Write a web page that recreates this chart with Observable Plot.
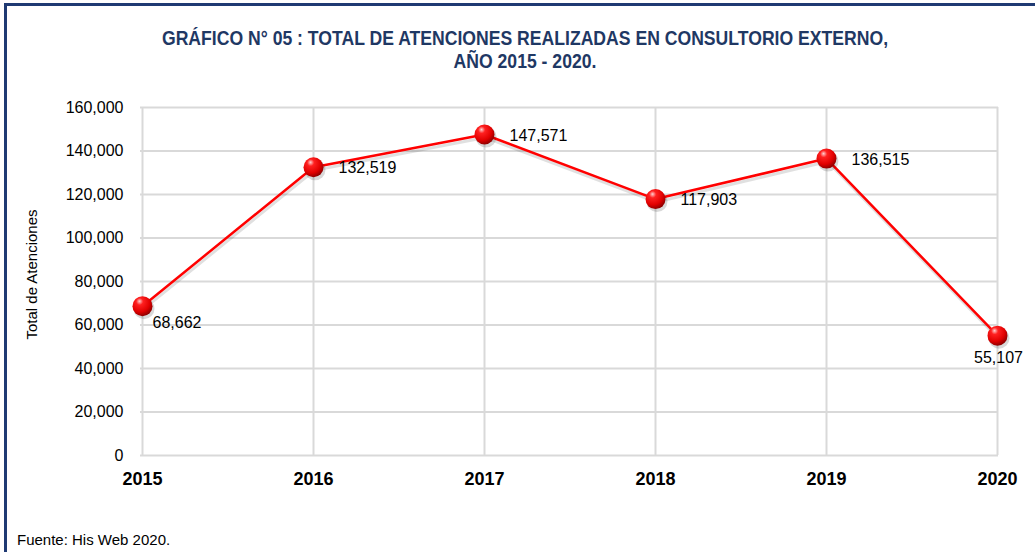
<!DOCTYPE html>
<html>
<head>
<meta charset="utf-8">
<script src="https://cdn.jsdelivr.net/npm/d3@7"></script>
<script src="https://cdn.jsdelivr.net/npm/@observablehq/plot@0.6"></script>
<style>
  body { margin: 0; background: #fff; font-family: "Liberation Sans", Arial, sans-serif; }
  #frame { position: absolute; left: 4px; top: 3px; width: 1040px; height: 560px; border-left: 3px solid #1F3A73; border-top: 3px solid #1F3A73; }
  #title { position: absolute; left: 0; top: 27px; width: 1050px; text-align: center; color: #1F3864; font-weight: bold; font-size: 20px; line-height: 23px; transform: scaleX(0.88); transform-origin: 525px 0; }
  #chart { position: absolute; left: 0; top: 80px; }
  #caption { position: absolute; left: 17px; top: 531px; font-size: 15px; color: #000; }
</style>
</head>
<body>
<div id="frame"></div>
<div id="title">GRÁFICO N° 05 : TOTAL DE ATENCIONES REALIZADAS EN CONSULTORIO EXTERNO,<br>AÑO 2015 - 2020.</div>
<div id="chart"></div>
<div id="caption">Fuente: His Web 2020.</div>
<script>
const years = ["2015", "2016", "2017", "2018", "2019", "2020"];
const atenciones = [68662, 132519, 147571, 117903, 136515, 55107];
const yTicks = [0, 20000, 40000, 60000, 80000, 100000, 120000, 140000, 160000];

const data = years.map((y, i) => ({year: y, value: atenciones[i]}));
const fmt = d3.format(",");
const last = years[years.length - 1];
const first = years[0];

const plot = Plot.plot({
  width: 1035,
  height: 420,
  marginLeft: 140,
  marginRight: 37,
  marginTop: 27,
  marginBottom: 45,
  style: {fontFamily: '"Liberation Sans", Arial, sans-serif', fontSize: "16px", color: "#000", background: "transparent"},
  x: {type: "point", domain: years, padding: 0},
  y: {domain: [0, 160000], ticks: yTicks},
  marks: [
    Plot.ruleY(yTicks, {stroke: "#D9D9D9", strokeWidth: 2}),
    Plot.ruleX(years, {stroke: "#D9D9D9", strokeWidth: 2}),
    Plot.axisY({ticks: yTicks, tickFormat: fmt, tickSize: 0, tickPadding: 17, label: "Total de Atenciones", labelAnchor: "center", labelArrow: "none", labelOffset: 114, fontSize: 16}),
    Plot.axisX({tickSize: 0, tickPadding: 17, fontWeight: "bold", fontSize: 18, label: null}),
    Plot.line(data, {x: "year", y: "value", stroke: "#000", strokeOpacity: 0.12, strokeWidth: 3, dx: 1, dy: 3}),
    Plot.line(data, {x: "year", y: "value", stroke: "#FF0000", strokeWidth: 2.5}),
    Plot.dot(data, {x: "year", y: "value", r: 10.5, fill: "#000", fillOpacity: 0.15, dx: 1.5, dy: 2.5}),
    Plot.dot(data, {x: "year", y: "value", r: 10, fill: "url(#sphere)"}),
    Plot.text(data.filter(d => d.year === first), {x: "year", y: "value", text: d => fmt(d.value), textAnchor: "start", dx: 10, dy: 17, fontSize: 16}),
    Plot.text(data.filter(d => d.year !== first && d.year !== last), {x: "year", y: "value", text: d => fmt(d.value), textAnchor: "start", dx: 25, dy: 1, fontSize: 16}),
    Plot.text(data.filter(d => d.year === last), {x: "year", y: "value", text: d => fmt(d.value), textAnchor: "middle", dx: 1, dy: 22, fontSize: 16})
  ]
});

const ns = "http://www.w3.org/2000/svg";
const defs = document.createElementNS(ns, "defs");
defs.innerHTML = `<radialGradient id="sphere" cx="0.38" cy="0.32" r="0.7" fx="0.35" fy="0.25">
  <stop offset="0" stop-color="#FFD0D0"/>
  <stop offset="0.25" stop-color="#FF2020"/>
  <stop offset="0.7" stop-color="#E00000"/>
  <stop offset="1" stop-color="#8A0000"/>
</radialGradient>`;
plot.insertBefore(defs, plot.firstChild);
// y-axis label size and slight upward shift
plot.querySelectorAll("[aria-label='y-axis label'] text").forEach(t => { t.setAttribute("font-size", "15"); t.setAttribute("dx", "7"); });
document.getElementById("chart").appendChild(plot);
</script>
</body>
</html>
